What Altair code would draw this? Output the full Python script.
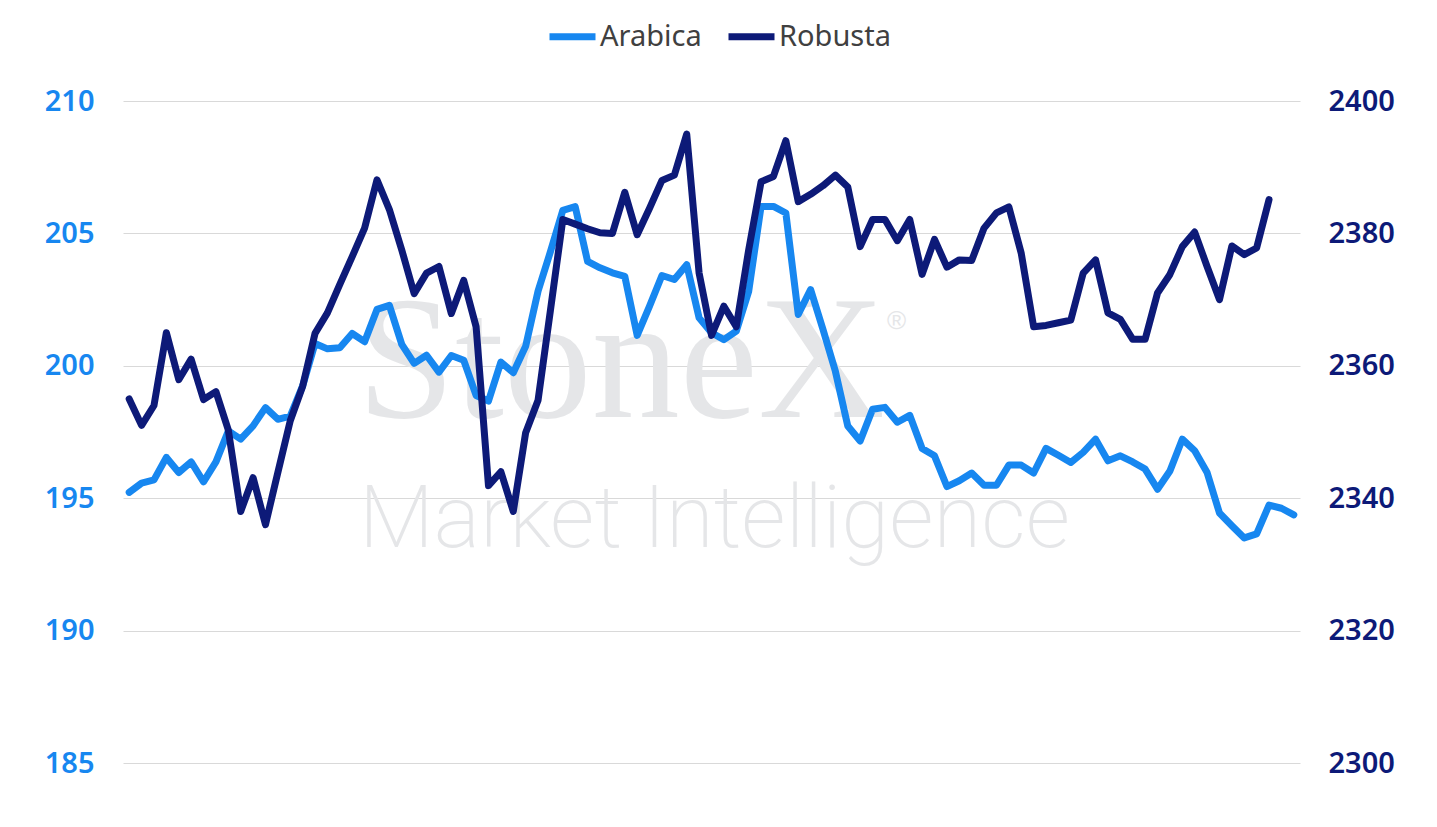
import altair as alt
import pandas as pd

arabica = [195.22, 195.57, 195.69, 196.54, 195.97, 196.37, 195.62, 196.37, 197.54, 197.23,
           197.73, 198.42, 197.98, 198.10, 199.24, 200.84, 200.64, 200.68, 201.22, 200.91,
           202.13, 202.28, 200.81, 200.09, 200.40, 199.76, 200.39, 200.21, 198.88, 198.67,
           200.14, 199.74, 200.74, 202.82, 204.31, 205.87, 206.01, 203.94, 203.70, 203.51,
           203.38, 201.15, 202.25, 203.41, 203.26, 203.82, 201.81, 201.25, 200.99, 201.31,
           202.81, 206.02, 206.02, 205.77, 201.94, 202.88, 201.37, 199.79, 197.73, 197.16,
           198.36, 198.43, 197.87, 198.13, 196.88, 196.60, 195.44, 195.66, 195.95, 195.49,
           195.49, 196.25, 196.25, 195.95, 196.88, 196.62, 196.35, 196.73, 197.23, 196.41,
           196.60, 196.37, 196.10, 195.34, 196.03, 197.23, 196.79, 195.97, 194.44, 193.96,
           193.50, 193.65, 194.74, 194.62, 194.37]

robusta = [2355.0, 2351.0, 2354.0, 2365.0, 2357.9, 2361.0, 2354.9, 2356.1, 2350.3, 2338.0,
           2343.1, 2336.0, 2343.9, 2351.7, 2356.9, 2364.9, 2368.0, 2372.3, 2376.5, 2380.8,
           2388.1, 2383.6, 2377.5, 2370.9, 2374.0, 2375.0, 2367.9, 2372.9, 2365.9, 2341.9,
           2344.0, 2338.0, 2349.9, 2354.8, 2368.4, 2382.1, 2381.4, 2380.7, 2380.1, 2380.0,
           2386.2, 2379.8, 2383.8, 2388.0, 2388.8, 2395.0, 2374.0, 2364.6, 2369.0, 2365.9,
           2377.5, 2387.8, 2388.6, 2394.0, 2384.8, 2385.9, 2387.2, 2388.8, 2387.0, 2378.0,
           2382.1, 2382.1, 2378.9, 2382.1, 2373.8, 2379.1, 2374.9, 2376.0, 2375.9, 2380.8,
           2383.1, 2384.0, 2377.0, 2365.9, 2366.1, 2366.5, 2366.9, 2374.0, 2376.0, 2368.0,
           2367.0, 2364.0, 2364.0, 2371.0, 2373.8, 2378.0, 2380.2, 2375.0, 2370.0, 2378.1,
           2376.8, 2377.8, 2385.1]

series_names = ["Arabica", "Robusta"]
series_colors = ["#1787f0", "#0d1a78"]
left_ticks = [185, 190, 195, 200, 205, 210]
right_ticks = [2300, 2320, 2340, 2360, 2380, 2400]

df_a = pd.DataFrame({"i": list(range(len(arabica))), "value": arabica, "series": "Arabica"})
df_r = pd.DataFrame({"i": list(range(len(robusta))), "value": robusta, "series": "Robusta"})

x_enc = alt.X("i:Q", scale=alt.Scale(domain=[-0.5, 94.5], nice=False, zero=False), axis=None)
color_enc = alt.Color(
    "series:N",
    scale=alt.Scale(domain=series_names, range=series_colors),
    legend=alt.Legend(
        title=None,
        orient="none",
        direction="horizontal",
        legendX=423,
        legendY=-91,
        symbolType="stroke",
        symbolSize=2116,
        symbolStrokeWidth=7,
        labelFont="Noto Sans",
        labelFontSize=29,
        labelColor="#404040",
        labelOffset=1,
        columnPadding=12,
        symbolOpacity=1,
    ),
)

line_a = alt.Chart(df_a).mark_line(strokeWidth=7, strokeCap="round", strokeJoin="round").encode(
    x=x_enc,
    y=alt.Y(
        "value:Q",
        scale=alt.Scale(domain=[185, 210], nice=False, zero=False),
        axis=alt.Axis(
            orient="left", values=left_ticks, title=None, ticks=False, domain=False,
            grid=True, gridColor="#d9d9d9", gridWidth=1, format="d",
            labelFont="Noto Sans", labelFontSize=29, labelFontWeight=600,
            labelColor="#1787f0", labelPadding=29,
        ),
    ),
    color=color_enc,
)

line_r = alt.Chart(df_r).mark_line(strokeWidth=7, strokeCap="round", strokeJoin="round").encode(
    x=x_enc,
    y=alt.Y(
        "value:Q",
        scale=alt.Scale(domain=[2300, 2400], nice=False, zero=False),
        axis=alt.Axis(
            orient="right", values=right_ticks, title=None, ticks=False, domain=False,
            grid=False, format="d",
            labelFont="Noto Sans", labelFontSize=29, labelFontWeight=600,
            labelColor="#0d1a78", labelPadding=28,
        ),
    ),
    color=color_enc,
)

wm_df = pd.DataFrame({"t": ["StoneX"]})
wm1 = alt.Chart(wm_df).mark_text(
    font="Liberation Serif", fontSize=176, color="#e5e6e8", align="left", baseline="alphabetic"
).encode(text="t:N", x=alt.value(234), y=alt.value(316))
wm_df2 = pd.DataFrame({"t": ["Market Intelligence"]})
wm2 = alt.Chart(wm_df2).mark_text(
    font="Roboto", fontWeight=200, fontSize=87, color="#e5e6e8", align="left", baseline="alphabetic"
).encode(text="t:N", x=alt.value(236), y=alt.value(446))
wm_df3 = pd.DataFrame({"t": ["®"]})
wm3 = alt.Chart(wm_df3).mark_text(
    font="Liberation Sans", fontSize=26, color="#e5e6e8", align="left", baseline="middle"
).encode(text="t:N", x=alt.value(764), y=alt.value(220))

chart = (
    alt.layer(wm1, wm2, wm3, line_a, line_r)
    .resolve_scale(y="independent")
    .properties(
        width=1177,
        height=662,
        background="white",
        autosize=alt.AutoSizeParams(type="none"),
        padding={"left": 115, "top": 93, "right": 120, "bottom": 50},
    )
    .configure_view(strokeWidth=0)
)

chart.save("out.html", embed_options={"renderer": "svg", "actions": False})
